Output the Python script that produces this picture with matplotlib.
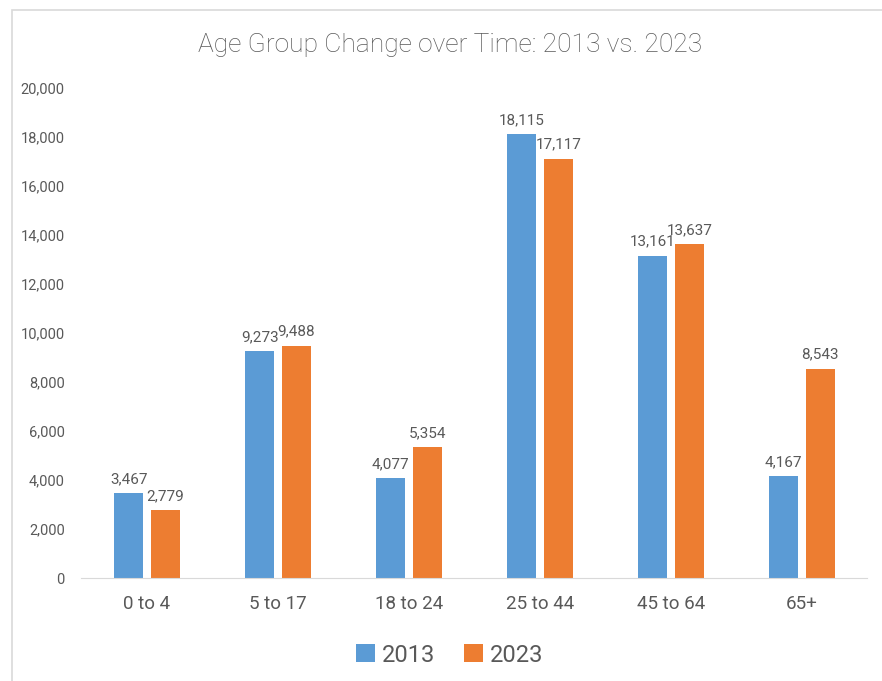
import matplotlib.pyplot as plt
import matplotlib.patches as patches
import numpy as np

# data
groups = ['0 to 4', '5 to 17', '18 to 24', '25 to 44', '45 to 64', '65+']
vals_2013 = [3467, 9273, 4077, 18115, 13161, 4167]
vals_2023 = [2779, 9488, 5354, 17117, 13637, 8543]
years = ['2013', '2023']

plt.rcParams['font.family'] = ['Roboto', 'DejaVu Sans']
txt = '#595959'

fig = plt.figure(figsize=(8.82, 6.81), dpi=100)
ax = fig.add_axes([0.0924, 0.1512, 0.8911, 0.7196])

# chart border (cropped at right/bottom)
fig.patches.append(patches.Rectangle((12 / 882, -0.05), 1.5, 1 - 10 / 681 + 0.05,
                                     transform=fig.transFigure, fill=False,
                                     edgecolor='#d9d9d9', linewidth=1.2))

x = np.arange(len(groups))
w = 0.22
off = 0.14
b1 = ax.bar(x - off, vals_2013, w, color='#5b9bd5', label=years[0])
b2 = ax.bar(x + off, vals_2023, w, color='#ed7d31', label=years[1])

for bars in (b1, b2):
    for r in bars:
        ax.annotate(f'{int(r.get_height()):,}', (r.get_x() + r.get_width() / 2, r.get_height()),
                    xytext=(0, 5), textcoords='offset points', ha='center', va='bottom',
                    fontsize=11, color=txt)

ax.set_xlim(-0.5, len(groups) - 0.5)
ax.set_ylim(0, 20000)
ax.set_yticks(range(0, 20001, 2000))
ax.set_yticklabels([f'{v:,}' for v in range(0, 20001, 2000)])
ax.set_xticks(x)
ax.set_xticklabels(groups)
ax.tick_params(axis='y', length=0, labelsize=10.5, labelcolor=txt, pad=12)
ax.tick_params(axis='x', length=0, labelsize=13.5, labelcolor=txt, pad=12)
for s in ['top', 'right', 'left']:
    ax.spines[s].set_visible(False)
ax.spines['bottom'].set_color('#d9d9d9')

fig.text(0.51, 0.934, 'Age Group Change over Time: 2013 vs. 2023', ha='center', va='center',
         fontsize=19, fontweight='light', color=txt)

fig.legend(loc='center', bbox_to_anchor=(0.51, 0.038), ncol=2, frameon=False,
           fontsize=17, labelcolor=txt, handlelength=0.8, handleheight=0.8,
           handletextpad=0.3, columnspacing=1.2)

fig.savefig('out.png', dpi=100)
